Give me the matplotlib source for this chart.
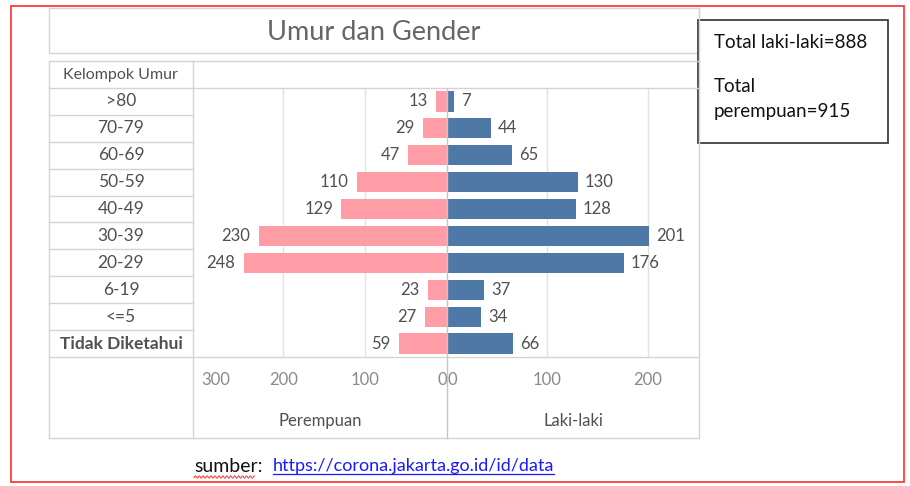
import numpy as np
import matplotlib
matplotlib.use('Agg')
import matplotlib.pyplot as plt
from matplotlib.lines import Line2D
from matplotlib.patches import Rectangle

# data
ages = ['>80', '70-79', '60-69', '50-59', '40-49', '30-39', '20-29', '6-19', '<=5', 'Tidak Diketahui']
perempuan = [13, 29, 47, 110, 129, 230, 248, 23, 27, 59]
laki = [7, 44, 65, 130, 128, 201, 176, 37, 34, 66]
ticks_p = [300, 200, 100, 0]
ticks_l = [0, 100, 200]

W, H = 910, 486
PINK = '#ff9da7'
BLUE = '#4e79a7'
GRID = '#e3e3e3'
BORDER = '#d4d4d4'
TXT = '#505050'

plt.rcParams['font.family'] = ['Lato', 'DejaVu Sans']

fig = plt.figure(figsize=(W / 100, H / 100), dpi=100)
fig.patch.set_facecolor('white')


def box(l, t, r, b):
    return [l / W, 1 - b / H, (r - l) / W, (b - t) / H]


def line(x1, y1, x2, y2, color=BORDER, lw=1.0):
    fig.add_artist(Line2D([x1 / W, x2 / W], [1 - y1 / H, 1 - y2 / H],
                          transform=fig.transFigure, color=color, lw=lw))


def ftext(x, y, s, **kw):
    return fig.text(x / W, 1 - y / H, s, **kw)


# red frame around the screenshot
fig.add_artist(Rectangle((11 / W, 1 - 482 / H), (904 - 11) / W, (482 - 6) / H,
                         transform=fig.transFigure, fill=False, ec='#ff3b3b', lw=1.3))

# title box
fig.add_artist(Rectangle((49 / W, 1 - 53 / H), (699 - 49) / W, (53 - 8) / H,
                         transform=fig.transFigure, fill=False, ec=BORDER, lw=1.0))
ftext(374, 32, 'Umur dan Gender', ha='center', va='center', fontsize=19.5, color='#666666')

n = len(ages)
y = np.arange(n)

axL = fig.add_axes(box(193, 88, 447, 357))
axR = fig.add_axes(box(447, 88, 699, 357))
axC = fig.add_axes(box(49, 88, 193, 357))

bl = axL.barh(y, perempuan, height=0.75, color=PINK, zorder=3)
axL.set_xlim(310, 0)
br = axR.barh(y, laki, height=0.75, color=BLUE, zorder=3)
axR.set_xlim(0, 251)
axL.bar_label(bl, padding=6, fontsize=12, color=TXT)
axR.bar_label(br, padding=5, fontsize=12, color=TXT)

for ax, tk in ((axL, ticks_p), (axR, ticks_l)):
    ax.set_ylim(n - 0.5, -0.5)
    ax.set_yticks([])
    ax.set_xticks(tk)
    ax.set_xticklabels([str(t) for t in tk])
    ax.tick_params(axis='x', length=0, pad=11, labelsize=12, labelcolor='#8a8a8a')
    for g in (100, 200):
        ax.axvline(g, color=GRID, lw=1, zorder=1)
    for s in ax.spines.values():
        s.set_visible(False)
    ax.patch.set_alpha(0)

axL.get_xticklabels()[-1].set_ha('right')
axR.get_xticklabels()[0].set_ha('left')
axL.get_xticklabels()[0].set_ha('left')
axL.set_xlabel('Perempuan', fontsize=12, color=TXT, labelpad=18)
axR.set_xlabel('Laki-laki', fontsize=12, color=TXT, labelpad=18)

# row header column
axC.set_xlim(0, 1)
axC.set_ylim(n - 0.5, -0.5)
axC.axis('off')
for i, a in enumerate(ages):
    axC.text(0.5, i, a, ha='center', va='center', fontsize=12.5, color=TXT,
             fontweight='bold' if a == 'Tidak Diketahui' else 'normal')
ftext(120, 75, 'Kelompok Umur', ha='center', va='center', fontsize=11.5, color=TXT)

# table lines
row_h = (357 - 88) / n
line(49, 61, 699, 61)
line(49, 88, 699, 88)
for i in range(1, n + 1):
    yy = 88 + i * row_h
    line(49, yy, 193, yy)
line(193, 357, 699, 357)
line(49, 438, 699, 438)
line(49, 61, 49, 438)
line(193, 61, 193, 438)
line(699, 8, 699, 438)
line(447, 88, 447, 438, color='#c6c6c6')

# totals box
fig.add_artist(Rectangle((698 / W, 1 - 143 / H), (888 - 698) / W, (143 - 20) / H,
                         transform=fig.transFigure, fill=True, fc='white', ec='#404040', lw=1.3))
ftext(714, 42, 'Total laki-laki=%d' % sum(laki), ha='left', va='center', fontsize=13.5, color='#111111')
ftext(714, 86, 'Total', ha='left', va='center', fontsize=13.5, color='#111111')
ftext(714, 111, 'perempuan=%d' % sum(perempuan), ha='left', va='center', fontsize=13.5, color='#111111')

# source line
t1 = ftext(194, 466, 'sumber:', ha='left', va='center', fontsize=14, color='#111111')
t2 = ftext(273, 466, 'https://corona.jakarta.go.id/id/data', ha='left', va='center',
           fontsize=13, color='#1a1aff')
fig.canvas.draw()
e1 = t1.get_window_extent()
e2 = t2.get_window_extent()
line(e2.x0, 474, e2.x1, 474, color='#1a1aff', lw=0.9)
wx = np.linspace(e1.x0, e1.x1 - 8, 80)
fig.add_artist(Line2D(wx / W, 1 - (477 + 1.2 * np.sin(wx * 1.6)) / H,
                      transform=fig.transFigure, color='#ff3030', lw=0.7))

fig.savefig('out.png', dpi=100, facecolor='white')
